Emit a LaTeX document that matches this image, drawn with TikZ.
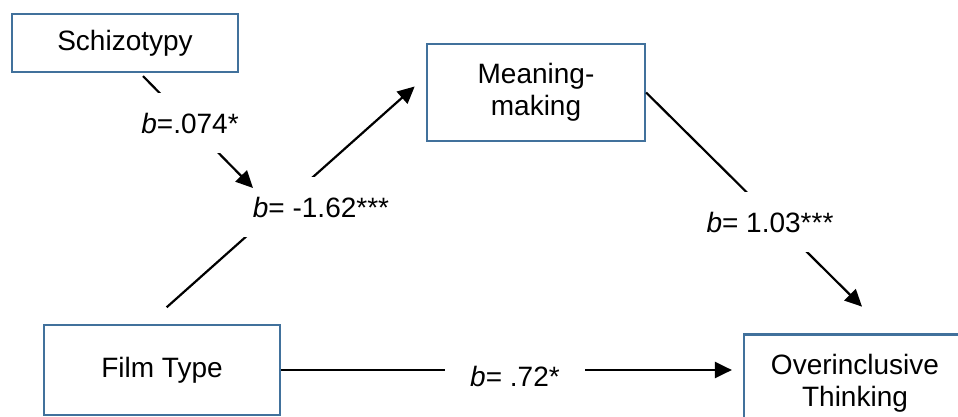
\documentclass[tikz,border=0pt]{standalone}
\usepackage{fontspec}
\setmainfont{Liberation Sans}
\usetikzlibrary{arrows.meta}
\definecolor{boxblue}{HTML}{41719C}

\begin{document}
\begin{tikzpicture}[x=1pt, y=1pt, >={Triangle[length=17pt, width=16pt]},
    every node/.style={font=\fontsize{28}{32}\selectfont}]
    \tikzstyle{var}=[draw=boxblue, line width=2.2pt, align=center, inner sep=0pt]
    \tikzstyle{coef}=[fill=white, inner xsep=25pt, inner ysep=20pt, text height=20pt, text depth=0pt]
    \tikzstyle{path}=[line width=2.2pt]

    \useasboundingbox (0,0) rectangle (958,416);
    \clip (0,0) rectangle (958,416);

    \node[var, minimum width=226pt, minimum height=58pt] (schizo) at (125,373) {Schizotypy};
    \node[var, minimum width=218pt, minimum height=97pt] (meaning) at (536,323.5) {Meaning-\\making};
    \node[var, minimum width=236pt, minimum height=90pt] (film) at (162,46) {Film Type};
    \node[var, minimum width=222pt, minimum height=97pt] (overinc) at (855,33) {Overinclusive\\Thinking};

    % a path
    \draw[path, ->, shorten <=25pt, shorten >=15pt] ([xshift=-14pt]film.north) -- ([yshift=16pt]meaning.west);
    \node[coef] (bFM) at (321,209) {\textit{b}= -1.62***};

    % moderation
    \coordinate (modpt) at (253,228);
    \draw[path, ->] ([shift={(18pt,-3pt)}]schizo.south) -- (modpt);
    \node[coef] (bSch) at (190,293) {\textit{b}=.074*};

    % b path
    \draw[path, ->, shorten >=38pt] (meaning.east) -- ([xshift=34pt]overinc.north);
    \node[coef] (bMO) at (770,194) {\textit{b}= 1.03***};

    % direct effect
    \draw[path, ->, shorten >=11pt] (film.east) -- (film.east -| overinc.west);
    \node[coef] (bFO) at (515,40) {\textit{b}= .72*};
\end{tikzpicture}
\end{document}
